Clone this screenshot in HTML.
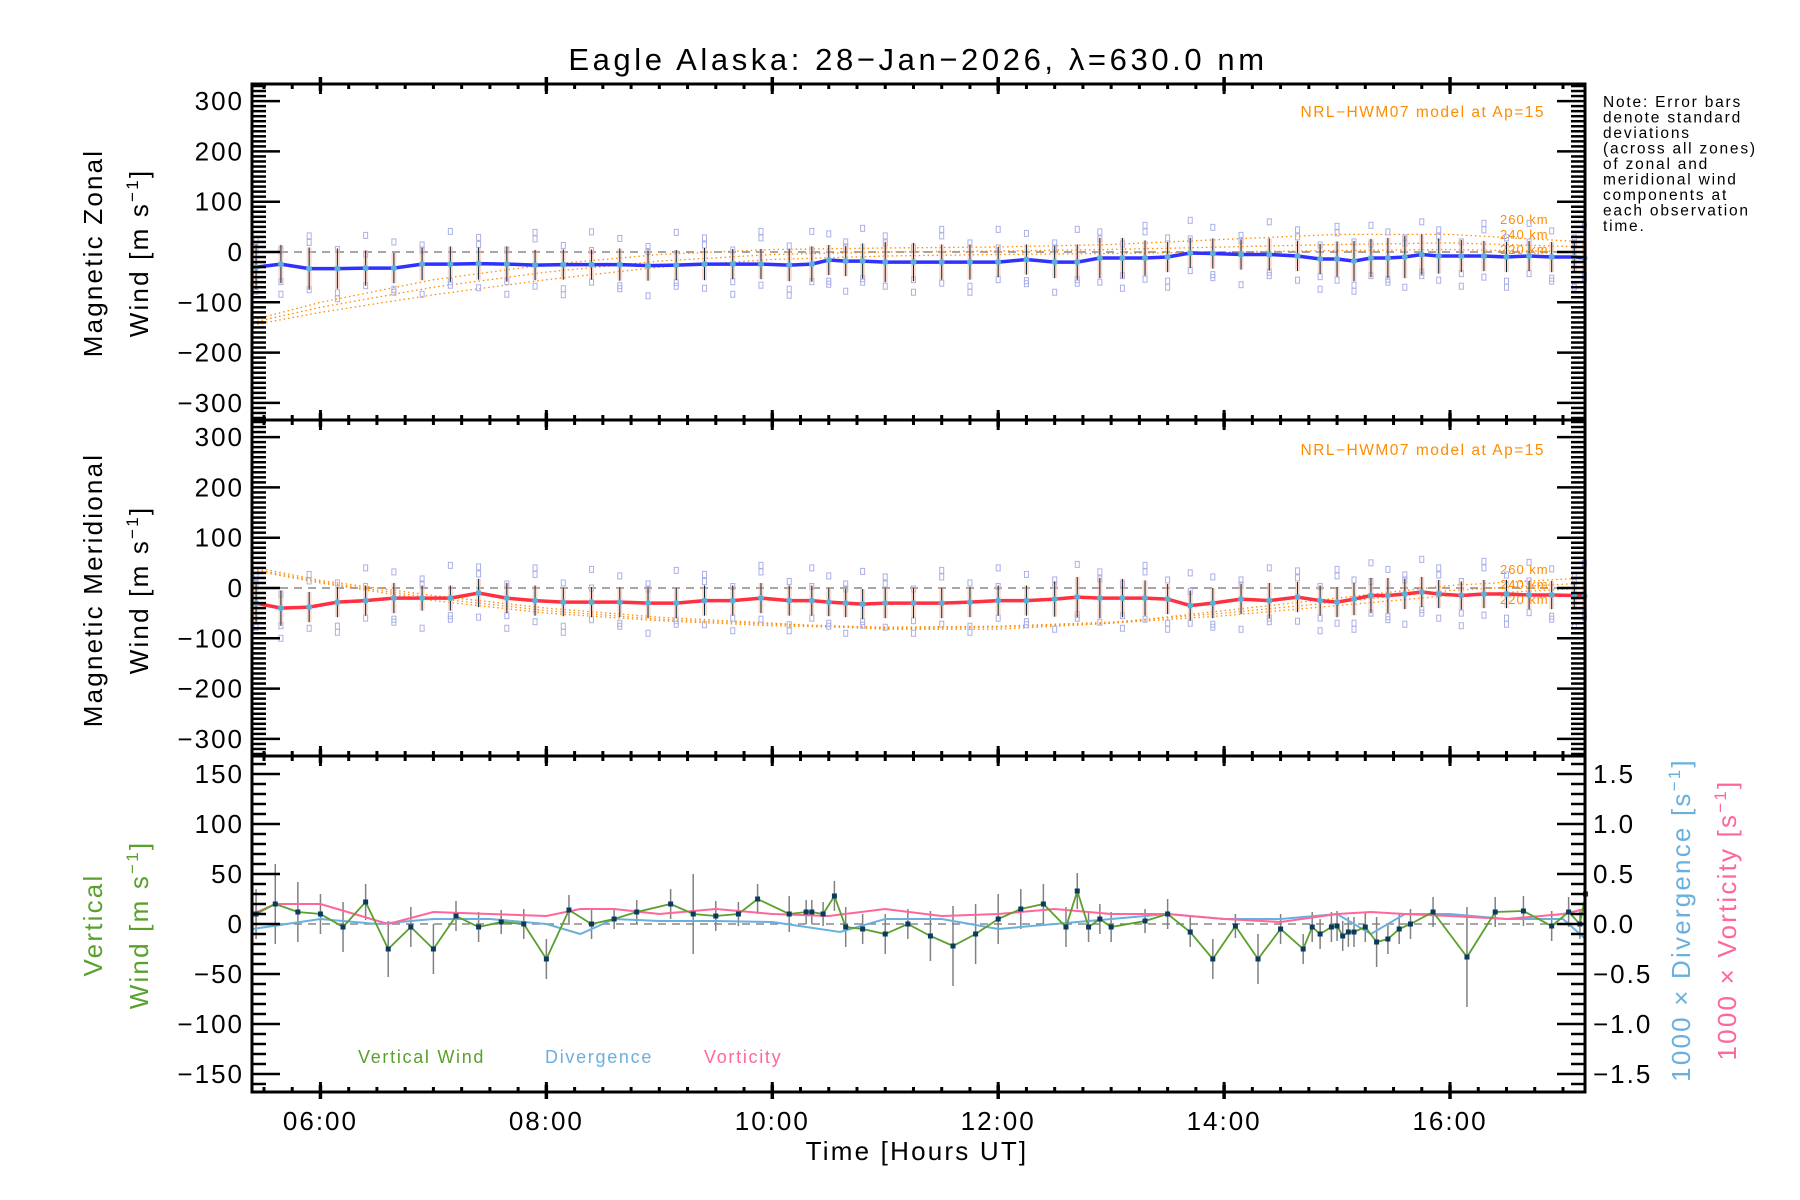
<!DOCTYPE html>
<html><head><meta charset="utf-8">
<style>
html,body{margin:0;padding:0;background:#fff;}
svg{display:block;font-family:"Liberation Sans",sans-serif;}
</style></head>
<body>
<svg id="chart" width="1800" height="1200" viewBox="0 0 1800 1200" xmlns="http://www.w3.org/2000/svg">
<rect width="1800" height="1200" fill="#fff"/>
<text x="918" y="70" font-size="31" text-anchor="middle" letter-spacing="3.6">Eagle Alaska: 28−Jan−2026, λ=630.0 nm</text>
<g id="g"></g>
<text x="1603" y="107" font-size="15.5" letter-spacing="1.8">
<tspan x="1603" dy="0">Note: Error bars</tspan><tspan x="1603" dy="15.5">denote standard</tspan><tspan x="1603" dy="15.5">deviations</tspan><tspan x="1603" dy="15.5">(across all zones)</tspan><tspan x="1603" dy="15.5">of zonal and</tspan><tspan x="1603" dy="15.5">meridional wind</tspan><tspan x="1603" dy="15.5">components at</tspan><tspan x="1603" dy="15.5">each observation</tspan><tspan x="1603" dy="15.5">time.</tspan></text>
<g font-size="26" letter-spacing="2.2" text-anchor="middle">
<text transform="translate(102,253) rotate(-90)">Magnetic Zonal</text>
<text transform="translate(148,253) rotate(-90)">Wind [m s<tspan dy="-10" font-size="17">−1</tspan><tspan dy="10">]</tspan></text>
<text transform="translate(102,590) rotate(-90)">Magnetic Meridional</text>
<text transform="translate(148,590) rotate(-90)">Wind [m s<tspan dy="-10" font-size="17">−1</tspan><tspan dy="10">]</tspan></text>
<text transform="translate(102,925) rotate(-90)" fill="#5aa02c">Vertical</text>
<text transform="translate(148,925) rotate(-90)" fill="#5aa02c">Wind [m s<tspan dy="-10" font-size="17">−1</tspan><tspan dy="10">]</tspan></text>
<text transform="translate(1690,920) rotate(-90)" fill="#6ab0de">1000 × Divergence [s<tspan dy="-10" font-size="17">−1</tspan><tspan dy="10">]</tspan></text>
<text transform="translate(1736,920) rotate(-90)" fill="#ff6699">1000 × Vorticity [s<tspan dy="-10" font-size="17">−1</tspan><tspan dy="10">]</tspan></text>
<text x="917" y="1160">Time [Hours UT]</text>
</g>
<text x="1545" y="117" font-size="15.5" text-anchor="end" fill="#ff8c00" letter-spacing="1.5">NRL−HWM07 model at Ap=15</text>
<text x="1545" y="455" font-size="15.5" text-anchor="end" fill="#ff8c00" letter-spacing="1.5">NRL−HWM07 model at Ap=15</text>
<text x="358" y="1063" font-size="18" fill="#5aa02c" letter-spacing="1.7">Vertical Wind</text>
<text x="545" y="1063" font-size="18" fill="#6ab0de" letter-spacing="1.7">Divergence</text>
<text x="704" y="1063" font-size="18" fill="#ff6699" letter-spacing="1.7">Vorticity</text>
</svg>
<script>
const uvTimes=[5.43,5.65,5.9,6.15,6.4,6.65,6.9,7.15,7.4,7.65,7.9,8.15,8.4,8.65,8.9,9.15,9.4,9.65,9.9,10.15,10.35,10.5,10.65,10.8,11.0,11.25,11.5,11.75,12.0,12.25,12.5,12.7,12.9,13.1,13.3,13.5,13.7,13.9,14.15,14.4,14.65,14.85,15.0,15.15,15.3,15.45,15.6,15.75,15.9,16.1,16.3,16.5,16.7,16.9,17.1,17.19];
const zonal=[-30,-24,-33,-33,-32,-32,-24,-24,-23,-24,-26,-25,-25,-25,-27,-26,-24,-24,-24,-26,-24,-16,-18,-18,-20,-20,-20,-20,-20,-15,-20,-20,-12,-12,-12,-10,-2,-3,-5,-5,-8,-14,-14,-18,-12,-12,-10,-5,-8,-8,-8,-10,-8,-10,-10,-12];
const meridional=[-30,-40,-38,-28,-25,-20,-20,-20,-10,-20,-25,-28,-28,-28,-30,-30,-25,-25,-20,-25,-25,-28,-30,-32,-30,-30,-30,-28,-25,-25,-22,-18,-20,-20,-20,-22,-35,-30,-22,-25,-18,-25,-28,-22,-15,-15,-12,-8,-12,-15,-12,-12,-14,-14,-15,-16];
const zonalStd=[45,38,42,40,35,30,32,35,32,35,30,30,30,32,30,30,32,30,30,32,35,30,30,35,40,38,35,35,30,30,32,35,40,40,35,30,30,30,30,32,30,30,35,40,38,40,42,40,35,32,30,30,30,30,30,30];
const meridStd=[40,35,30,30,30,30,25,25,28,30,30,28,30,30,30,30,30,30,30,30,30,28,28,30,30,30,30,30,30,30,35,40,40,38,35,30,30,30,30,35,30,30,30,32,35,35,30,30,28,28,28,28,28,28,28,28];
const zoneOffsets=[52,-48,38,-60,28,-35,65,-42];
const modelTimes=[5.4,6,7,8,9,10,11,12,13,14,15,16,17.2];
const zon220=[-145,-120,-85,-55,-30,-15,-8,-5,-3,0,3,5,0];
const zon240=[-140,-110,-70,-40,-18,-5,0,2,5,10,15,18,10];
const zon260=[-135,-100,-55,-25,-5,5,8,10,15,25,35,35,20];
const mer220=[35,10,-25,-50,-65,-75,-80,-78,-70,-55,-35,-15,0];
const mer240=[38,12,-20,-45,-62,-72,-78,-76,-68,-50,-28,-5,10];
const mer260=[42,15,-15,-40,-58,-70,-82,-82,-70,-45,-20,5,20];
const vTimes=[5.43,5.6,5.8,6.0,6.2,6.4,6.6,6.8,7.0,7.2,7.4,7.6,7.8,8.0,8.2,8.4,8.6,8.8,9.1,9.3,9.5,9.7,9.87,10.15,10.3,10.35,10.45,10.55,10.65,10.8,11.0,11.2,11.4,11.6,11.8,12.0,12.2,12.4,12.6,12.7,12.8,12.9,13.0,13.3,13.5,13.7,13.9,14.1,14.3,14.5,14.7,14.78,14.85,14.95,15.0,15.05,15.1,15.15,15.25,15.35,15.45,15.55,15.65,15.85,16.15,16.4,16.65,16.9,17.05,17.15,17.2];
const vWind=[10,20,12,10,-3,22,-25,-3,-25,8,-3,2,0,-35,14,0,5,12,20,10,8,10,25,10,12,12,10,28,-3,-5,-10,0,-12,-22,-10,5,15,20,-3,33,-3,5,-3,3,10,-8,-35,-2,-35,-5,-25,-3,-10,-3,-2,-12,-8,-8,-3,-18,-15,-5,0,12,-33,12,13,-2,12,0,30];
const vStd=[25,40,30,20,25,18,28,20,25,15,15,12,15,20,15,15,10,12,15,40,15,12,15,18,12,12,12,15,20,15,20,15,25,40,30,25,20,20,20,18,15,15,15,12,15,15,20,12,25,15,15,15,15,15,15,15,15,15,15,25,15,15,15,15,50,15,15,15,15,15,15];
const divTimes=[5.4,6,6.5,7,7.5,8,8.3,8.6,9,9.5,10,10.6,11,11.5,12,12.5,13,13.5,14,14.5,15,15.3,15.6,16,16.5,17,17.2];
const divergence=[-0.05,0.05,0.0,0.05,0.05,0.0,-0.1,0.05,0.03,0.03,0.02,-0.08,0.05,0.05,-0.05,0.0,0.05,0.1,0.05,0.05,0.1,-0.1,0.1,0.1,0.05,0.05,-0.15];
const vortTimes=[5.4,5.6,6,6.3,6.6,7,7.5,8,8.3,8.6,9,9.5,10,10.5,11,11.5,12,12.5,13,13.5,14,14.5,15,15.3,15.6,16,16.5,17,17.2];
const vorticity=[0.1,0.2,0.2,0.1,0.0,0.12,0.1,0.08,0.15,0.15,0.1,0.15,0.1,0.08,0.15,0.08,0.1,0.15,0.1,0.1,0.05,0.02,0.1,0.12,0.1,0.08,0.05,0.1,0.15];
const xTickLabels=["06:00","08:00","10:00","12:00","14:00","16:00"];
const uvTickLabels=["300","200","100","0","−100","−200","−300"];
const vTickLabels=["150","100","50","0","−50","−100","−150"];
const rTickLabels=["1.5","1.0","0.5","0.0","−0.5","−1.0","−1.5"];

const NS="http://www.w3.org/2000/svg";
const G=document.getElementById('g');
const X0=252,X1=1585,T0=5.394,T1=17.195;
const xs=t=>X0+(t-T0)*(X1-X0)/(T1-T0);
const P=[{top:84,bot:420,r:334},{top:420,bot:756,r:334},{top:756,bot:1092,r:168}];
const ys=(p,v)=>(P[p].top+P[p].bot)/2-v*(P[p].bot-P[p].top)/2/P[p].r;
const yr=v=>ys(2,v*100);
function mk(tag,a,name){const e=document.createElementNS(NS,tag);for(const k in a)e.setAttribute(k,a[k]);


G.appendChild(e);return e;}
function pl(ts,vs,f,name,st){let d='';const n=Math.min(ts.length,vs.length);for(let i=0;i<n;i++)d+=(i?'L':'M')+xs(ts[i]).toFixed(1)+','+f(vs[i]).toFixed(1);
const a=Object.assign({d:d,fill:'none'},st);return mk('path',a,name);}

for(let p=0;p<3;p++){mk('line',{x1:X0,x2:X1,y1:ys(p,0),y2:ys(p,0),stroke:'#888','stroke-width':1.5,'stroke-dasharray':'8,6'},'zero-line');}

[[zon220,0],[zon240,0],[zon260,0],[mer220,1],[mer240,1],[mer260,1]].forEach((m,i)=>{
pl(modelTimes,m[0],v=>ys(m[1],v),'hwm-model-curve',{stroke:'#ff8c00','stroke-width':1.3,'stroke-dasharray':'1.5,3'});});
['260 km','240 km','220 km'].forEach((s,i)=>{
const t=mk('text',{x:1500,y:224+i*15,'font-size':13,fill:'#ff8c00','letter-spacing':1},'hwm-altitude-label');t.textContent=s;
const t2=mk('text',{x:1500,y:574+i*15,'font-size':13,fill:'#ff8c00','letter-spacing':1},'hwm-altitude-label');t2.textContent=s;});

[[zonal,zonalStd,0,'#3030ff'],[meridional,meridStd,1,'#ff3040']].forEach(([vals,sd,p,col])=>{
const n=Math.min(uvTimes.length,vals.length);
for(let i=0;i<n;i++){const x=xs(uvTimes[i]);
for(let k=0;k<3;k++){const o=zoneOffsets[(i*3+k)%zoneOffsets.length];
mk('rect',{x:x-2,y:ys(p,vals[i]+o)-3,width:4,height:6,fill:'none',stroke:'#aab0e8','stroke-width':1},'zone-sample');}
mk('rect',{x:x-2.5,y:ys(p,vals[i]+sd[i]),width:5,height:ys(p,vals[i]-sd[i])-ys(p,vals[i]+sd[i]),fill:'#f8b8a0',opacity:0.5},'zone-spread');
mk('line',{x1:x,x2:x,y1:ys(p,vals[i]+sd[i]),y2:ys(p,vals[i]-sd[i]),stroke:'#0a2a40','stroke-width':1},'error-bar');}
pl(uvTimes,vals,v=>ys(p,v),p?'meridional-wind-line':'zonal-wind-line',{stroke:col,'stroke-width':3.5});
for(let i=0;i<n;i++)mk('circle',{cx:xs(uvTimes[i]),cy:ys(p,vals[i]),r:3,fill:'#5ab0d8'},'mean-point');
});

for(let i=0;i<Math.min(vTimes.length,vWind.length,vStd.length);i++){const x=xs(vTimes[i]);
mk('line',{x1:x,x2:x,y1:ys(2,vWind[i]+vStd[i]),y2:ys(2,vWind[i]-vStd[i]),stroke:'#808080','stroke-width':1.5},'vertical-error-bar');}
pl(divTimes,divergence,yr,'divergence-line',{stroke:'#6ab0de','stroke-width':2});
pl(vortTimes,vorticity,yr,'vorticity-line',{stroke:'#ff6699','stroke-width':2});
pl(vTimes,vWind,v=>ys(2,v),'vertical-wind-line',{stroke:'#5aa02c','stroke-width':1.8});
for(let i=0;i<Math.min(vTimes.length,vWind.length);i++)mk('rect',{x:xs(vTimes[i])-2.5,y:ys(2,vWind[i])-2.5,width:5,height:5,fill:'#0a3a60'},'vertical-wind-point');

for(let p=0;p<3;p++){const {top,bot}=P[p];
mk('rect',{x:X0,y:top,width:X1-X0,height:bot-top,fill:'none',stroke:'#000','stroke-width':3},'panel-frame');
for(let m=0;;m++){const t=5.5+m*0.25;if(t>T1)break;const x=xs(t);const maj=Math.abs(t-Math.round(t))<1e-6&&Math.round(t)%2===0;
const L=maj?10:5;
mk('line',{x1:x,x2:x,y1:top,y2:top+L,stroke:'#000','stroke-width':3},'x-tick');
mk('line',{x1:x,x2:x,y1:bot,y2:bot-L,stroke:'#000','stroke-width':3},'x-tick');}
const step=10, mx=P[p].r;
for(let v=-Math.floor(mx/10)*10;v<=mx;v+=step){const y=ys(p,v);const maj=p<2?(v%100===0):(v%50===0);const L=maj?28:14;
mk('line',{x1:X0,x2:X0+L,y1:y,y2:y,stroke:'#000','stroke-width':2.5},'y-tick');
if(p<2)mk('line',{x1:X1,x2:X1-L,y1:y,y2:y,stroke:'#000','stroke-width':2.5},'y-tick');}
const labs=p<2?uvTickLabels:vTickLabels;const vals=p<2?[300,200,100,0,-100,-200,-300]:[150,100,50,0,-50,-100,-150];
vals.forEach((v,i)=>{const t=mk('text',{x:244,y:ys(p,v)+9,'font-size':26,'text-anchor':'end','letter-spacing':2},'y-tick-label');t.textContent=labs[i];});}
for(let k=-16;k<=16;k++){const y=yr(k/10);const maj=k%5===0;const L=maj?28:14;
mk('line',{x1:X1,x2:X1-L,y1:y,y2:y,stroke:'#000','stroke-width':2.5},'right-y-tick');}
[1.5,1.0,0.5,0,-0.5,-1.0,-1.5].forEach((v,i)=>{const t=mk('text',{x:1593,y:yr(v)+9,'font-size':26,'letter-spacing':2},'right-y-tick-label');t.textContent=rTickLabels[i];});
[6,8,10,12,14,16].forEach((h,i)=>{const t=mk('text',{x:xs(h),y:1130,'font-size':26,'text-anchor':'middle','letter-spacing':2},'x-tick-label');t.textContent=xTickLabels[i];
for(const yy of [84,420,756,1092])mk('line',{x1:xs(h),x2:xs(h),y1:yy-7,y2:yy+7,stroke:'#000','stroke-width':3.5},'x-major-tick');});
</script>
</body></html>
